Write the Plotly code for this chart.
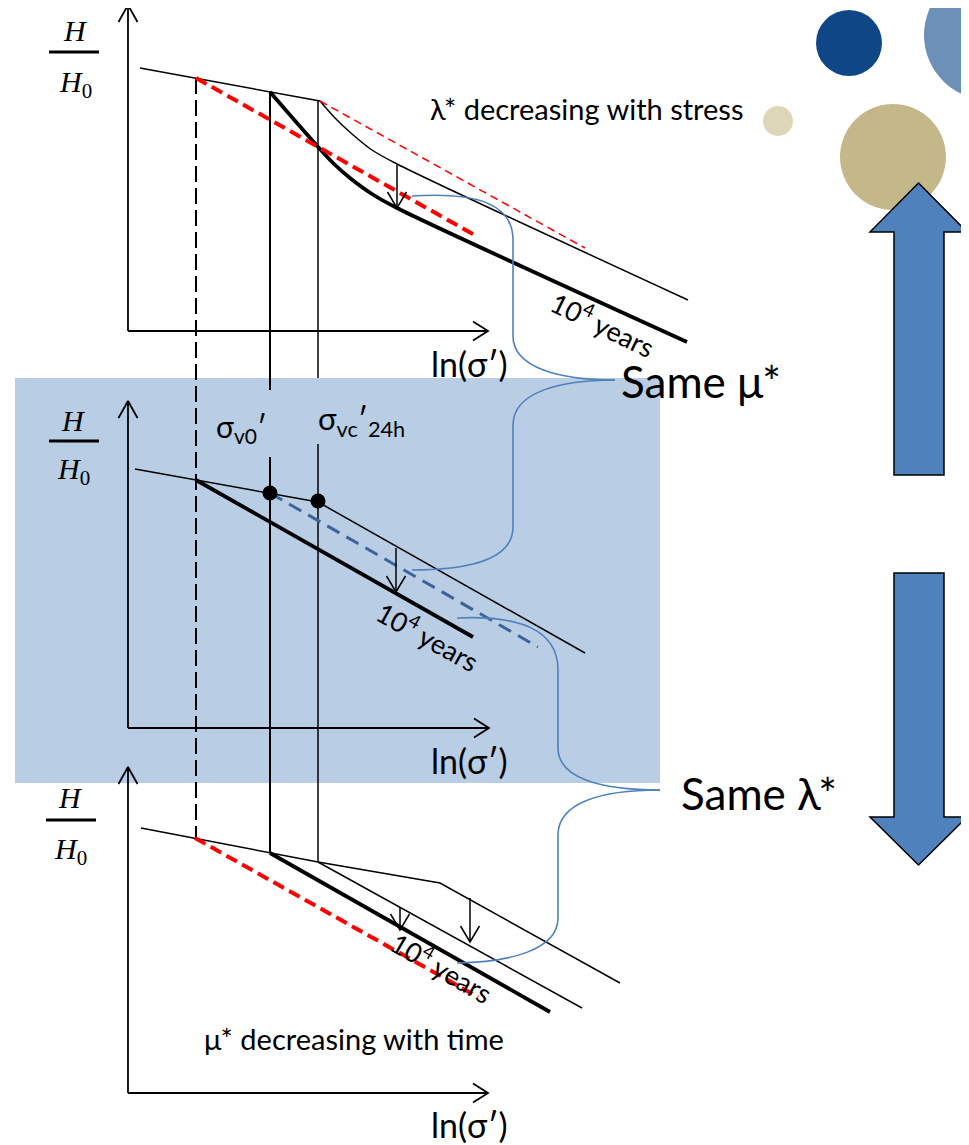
import plotly.graph_objects as go

W, H = 969, 1145
PAGE_OFFSET = 8  # the page body margin that shifts the figure

# ---------------- axes of the three panels ----------------
axis_x0 = [128, 128, 128]          # vertical axis position
axis_y_top = [5, 401, 767]         # arrow tip of vertical axis
axis_y_base = [331, 728, 1093]     # horizontal axis level
axis_x_end = [488, 489, 488]       # arrow tip of horizontal axis

# ---------------- panel 1 (lambda* decreasing with stress) ----------------
p1_pre_x = [140, 320]
p1_pre_y = [68, 101]
p1_thin_x = [320, 335, 352, 372, 397, 688]
p1_thin_y = [101, 118, 134, 150, 164, 300]
p1_thick_x = [270, 319, 333, 350, 372, 397, 687]
p1_thick_y = [92, 148, 163, 178, 194, 208, 342]
p1_red_thick_x = [196, 478]
p1_red_thick_y = [78, 237]
p1_red_thin_x = [320, 585]
p1_red_thin_y = [101, 248]

# ---------------- panel 2 (reference) ----------------
p2_pre_x = [135, 318]
p2_pre_y = [469, 502]
p2_thin_x = [318, 585]
p2_thin_y = [502, 653]
p2_thick_x = [196, 473]
p2_thick_y = [480, 637]
p2_blue_dash_x = [270, 538]
p2_blue_dash_y = [493, 647]
p2_dots_x = [270, 318]
p2_dots_y = [493, 501]

# ---------------- panel 3 (mu* decreasing with time) ----------------
p3_pre_x = [141, 318, 440, 620]
p3_pre_y = [828, 862, 883, 983]
p3_thin_x = [318, 582]
p3_thin_y = [862, 1008]
p3_thick_x = [270, 550]
p3_thick_y = [853, 1012]
p3_red_x = [195, 478]
p3_red_y = [838, 997]

# ---------------- verticals through the panels ----------------
v_dash_x = 196
v_dash_y = [78, 838]
v1_x = 270
v1_segments = [[92, 390], [457, 853]]
v2_x = 318
v2_segments = [[101, 378], [444, 862]]

# ---------------- small downward arrows (x, top, tip) ----------------
down_arrows = [(397, 165, 208), (396, 548, 592), (400, 907, 930), (470, 898, 942)]

# ---------------- braces (blue connectors) ----------------
brace_paths = [
    "M 412,196 C 480,192 513,205 513,240 L 513,336 C 513,368 560,380 615,380",
    "M 615,380 C 560,380 513,392 513,425 L 513,527 C 513,560 470,570 412,570",
    "M 457,618 C 520,615 558,630 558,670 L 558,748 C 558,778 600,790 660,790",
    "M 660,790 C 600,790 558,803 558,835 L 558,918 C 558,950 510,962 457,963",
]

# ---------------- decorative circles (cx, cy, r, colour) ----------------
circles = [(849, 43, 33, "#0E4686"), (989, 35, 65, "#6D90B8"),
           (893, 157, 53, "#C4B88A"), (778, 121, 15, "#DDD6B8")]

fig = go.Figure()

def line(xs, ys, width=1.5, color="black", dash="solid", shape="linear"):
    fig.add_trace(go.Scatter(x=xs, y=ys, mode="lines",
                             line=dict(color=color, width=width, dash=dash, shape=shape,
                                       smoothing=0.8 if shape == "spline" else None),
                             hoverinfo="skip", showlegend=False))

# axes with open arrowheads
for x0, yt, yb, xe in zip(axis_x0, axis_y_top, axis_y_base, axis_x_end):
    line([x0, x0], [yt, yb], 1.8)
    line([x0, xe], [yb, yb], 1.8)
    line([x0 - 9.5, x0, x0 + 9.5], [yt + 17, yt, yt + 17], 1.8)
    line([xe - 15, xe, xe - 15], [yb - 9.5, yb, yb + 9.5], 1.8)

# verticals
line([v_dash_x, v_dash_x], v_dash_y, 2, dash="16px,6px")
for seg in v1_segments:
    line([v1_x, v1_x], seg, 2)
for seg in v2_segments:
    line([v2_x, v2_x], seg, 1.5)

# panel 1
line(p1_pre_x, p1_pre_y, 1.5)
line(p1_thin_x, p1_thin_y, 1.5, shape="spline")
line(p1_thick_x, p1_thick_y, 3.8, shape="spline")
line(p1_red_thick_x, p1_red_thick_y, 4, "#FF0000", "12px,6px")
line(p1_red_thin_x, p1_red_thin_y, 1.5, "#FF0000", "8px,5px")

# panel 2
line(p2_pre_x, p2_pre_y, 1.5)
line(p2_thin_x, p2_thin_y, 1.5)
line(p2_thick_x, p2_thick_y, 3.8)
line(p2_blue_dash_x, p2_blue_dash_y, 3, "#3C649A", "14px,8px")
fig.add_trace(go.Scatter(x=p2_dots_x, y=p2_dots_y, mode="markers",
                         marker=dict(color="black", size=15), hoverinfo="skip", showlegend=False))

# panel 3
line(p3_pre_x, p3_pre_y, 1.5)
line(p3_thin_x, p3_thin_y, 1.5)
line(p3_thick_x, p3_thick_y, 3.8)
line(p3_red_x, p3_red_y, 4, "#FF0000", "12px,6px")

# small arrows
for x, yt, yb in down_arrows:
    line([x, x], [yt, yb], 1.5)
    line([x - 9.5, x, x + 9.5], [yb - 16, yb, yb - 16], 1.5)

shapes = []
# light blue band
shapes.append(dict(type="rect", xref="x", yref="y", x0=15, x1=660, y0=378, y1=783,
                   fillcolor="#B9CDE5", line=dict(width=0), layer="below"))
for p in brace_paths:
    shapes.append(dict(type="path", xref="x", yref="y", path=p,
                       line=dict(color="#4F81BD", width=1.6)))
for cx, cy, r, c in circles:
    shapes.append(dict(type="circle", xref="x", yref="y", x0=cx - r, x1=cx + r,
                       y0=cy - r, y1=cy + r, fillcolor=c, line=dict(width=0), layer="below"))

# block arrows
def block_arrow(shaft_x0, shaft_x1, head_x0, head_x1, tip_y, base_y, end_y):
    cx = (head_x0 + head_x1) / 2
    return (f"M {cx},{tip_y} L {head_x1},{base_y} L {shaft_x1},{base_y} L {shaft_x1},{end_y} "
            f"L {shaft_x0},{end_y} L {shaft_x0},{base_y} L {head_x0},{base_y} Z")

for args in [(894, 944, 870, 967, 183, 232, 475), (894, 944, 870, 967, 865, 817, 573)]:
    shapes.append(dict(type="path", xref="x", yref="y", path=block_arrow(*args),
                       fillcolor="#4F81BD", line=dict(color="black", width=1.5)))

# fraction bars
for yb, x0, x1 in [(52, 49, 99), (441, 49, 99), (820, 46, 96)]:
    shapes.append(dict(type="line", xref="x", yref="y", x0=x0, x1=x1, y0=yb, y1=yb,
                       line=dict(color="black", width=3)))

ann = []
def text(x, y, s, size, family="Lato", angle=0, xanchor="center"):
    ann.append(dict(x=x, y=y, xref="x", yref="y", text=s, showarrow=False, textangle=angle,
                    xanchor=xanchor, yanchor="middle",
                    font=dict(family=family, size=size, color="black")))

serif = "Liberation Serif"
for hx, hy, h0y in [(75, 30, 84), (73, 420, 471), (70, 797, 851)]:
    text(hx, hy, "<i>H</i>", 30, serif)
    text(hx, h0y, "<i>H</i><sub>0</sub>", 30, serif)

for y in [363, 760, 1124]:
    text(469, y, "ln(σ′)", 34)

text(586, 108, "λ* decreasing with stress", 29)
text(354, 1038, "μ* decreasing with time", 29)
text(619, 381, "Same μ*", 44, xanchor="left")
text(679, 793, "Same λ*", 44, xanchor="left")
text(603, 323, "10<sup>4</sup> years", 27, angle=26)
text(428, 635, "10<sup>4</sup> years", 27, angle=29)
text(442, 966, "10<sup>4</sup> years", 27, angle=30)
text(241, 428, "σ<sub>v0</sub>′", 30)
text(361, 420, "σ<sub>vc</sub>′<sub>24h</sub>", 31)

fig.update_layout(width=W, height=H, margin=dict(l=0, r=0, t=0, b=0),
                  paper_bgcolor="white", plot_bgcolor="white",
                  xaxis=dict(range=[PAGE_OFFSET, W + PAGE_OFFSET], visible=False, fixedrange=True),
                  yaxis=dict(range=[H + PAGE_OFFSET, PAGE_OFFSET], visible=False, fixedrange=True),
                  shapes=shapes, annotations=ann, showlegend=False)

fig.write_html("out.html")
